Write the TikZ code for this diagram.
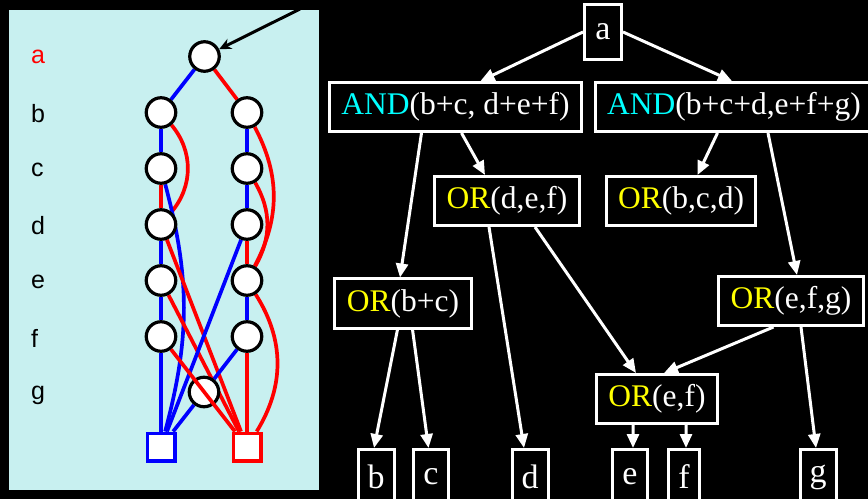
\documentclass[tikz,border=0pt]{standalone}
\usepackage{fontspec}
\setmainfont{Liberation Serif}
\newfontfamily\lblfont{Liberation Sans}
\usetikzlibrary{arrows.meta}
\definecolor{panelcyan}{RGB}{200,240,240}
\definecolor{andcyan}{RGB}{0,255,255}
\definecolor{oryellow}{RGB}{255,255,0}
\pgfdeclarelayer{back}
\pgfdeclarelayer{edges}
\pgfsetlayers{back,edges,main}

\begin{document}
\begin{tikzpicture}[x = 1bp, y = -1bp,
    vert/.style = {circle, draw = black, fill = white, line width = 3.2bp, minimum size = 29.5bp, inner sep = 0pt},
    term/.style = {rectangle, fill = white, line width = 3.5bp, minimum size = 27.5bp, inner sep = 0pt},
    loedge/.style = {blue, line width = 3.7bp},
    hiedge/.style = {red, line width = 3.7bp},
    varlbl/.style = {anchor = west, inner sep = 0pt, font = {\lblfont\fontsize{25bp}{29bp}\selectfont}},
    gate/.style = {draw = white, line width = 3bp, text = white, inner xsep = 12bp, minimum height = 49bp, font = {\fontsize{31.5bp}{36bp}\selectfont}},
    leaf/.style = {gate, inner xsep = 9.5bp, minimum height = 55bp, font = {\fontsize{34bp}{40bp}\selectfont}},
    flow/.style = {white, line width = 3bp, -{Triangle[length = 14bp, width = 12bp]}}]
    \useasboundingbox (0,0) rectangle (868,499);
    \clip (0,0) rectangle (868,499);
    \begin{pgfonlayer}{back}
        \fill [black] (0,0) rectangle (868,499);
        \fill [panelcyan] (9,10) rectangle (319,490);
    \end{pgfonlayer}

    % left: the diagram
    \node [varlbl, red] (lbla) at (31,57) {a};
    \foreach \v/\y in {b/114, c/170, d/226, e/282, f/338, g/395}
        \node [varlbl] (lbl\v) at (31,\y) {\v};

    \node [vert] (ta) at (204.5,56.5) {};
    \foreach \v/\y in {b/112.5, c/168.5, d/224.5, e/280.5, f/336.5} {
        \node [vert] (l\v) at (161,\y) {};
        \node [vert] (r\v) at (247,\y) {};
    }
    \node [vert] (tg) at (204,392) {};
    \node [term, draw = blue] (zero) at (161,447) {};
    \node [term, draw = red] (one) at (247,447) {};

    \coordinate (src) at (300,9);
    \draw [line width = 3bp, -{Stealth[length = 12bp, width = 11bp]}] (src) -- (ta);

    \begin{pgfonlayer}{edges}
        \draw [loedge] (ta) -- (lb);
        \draw [hiedge] (ta) -- (rb);
        \draw [loedge] (lb) -- (lc);
        \draw [hiedge] (lb) to [bend left = 40] (ld);
        \draw [hiedge] (lc) -- (ld);
        \draw [loedge] (lc) to [bend left = 15] (zero);
        \draw [hiedge] (ld) -- (one);
        \draw [loedge] (ld) -- (le);
        \draw [hiedge] (le) -- (one);
        \draw [loedge] (le) -- (lf);
        \draw [loedge] (lf) -- (zero);

        \draw [loedge] (rb) -- (rc);
        \draw [hiedge] (rb) to [bend left = 28] (re);
        \draw [loedge] (rc) -- (rd);
        \draw [hiedge] (rc) to [bend left = 30] (re);
        \draw [loedge] (rd) -- (zero);
        \draw [hiedge] (rd) -- (re);
        \draw [loedge] (re) -- (rf);
        \draw [hiedge] (re) to [bend left = 32] (one);
        \draw [loedge] (rf) -- (tg);
        \draw [hiedge] (rf) -- (one);
        \draw [loedge] (tg) -- (zero);
    \end{pgfonlayer}
    \draw [hiedge] (lf) -- (one);

    % right: the formula tree
    \node [leaf, minimum width = 37bp] (fa) at (603,32) {a};
    \node [gate] (and1) at (455.5,107) {\textcolor{andcyan}{AND}(b+c, d+e+f)};
    \node [gate] (and2) at (734,107) {\textcolor{andcyan}{AND}(b+c+d,e+f+g)};
    \node [gate] (ordef) at (507,201) {\textcolor{oryellow}{OR}(d,e,f)};
    \node [gate] (orbcd) at (681,201) {\textcolor{oryellow}{OR}(b,c,d)};
    \node [gate] (orbc) at (403,303.5) {\textcolor{oryellow}{OR}(b+c)};
    \node [gate] (orefg) at (791,301) {\textcolor{oryellow}{OR}(e,f,g)};
    \node [gate] (oref) at (657,399) {\textcolor{oryellow}{OR}(e,f)};
    \foreach \v/\x in {b/376, c/431, d/530, e/630, f/684, g/818}
        \node [leaf] (v\v) at (\x,477) {\v};

    \draw [flow] (fa.west) -- ([xshift = 25bp]and1.north);
    \draw [flow] (fa.east) -- ([xshift = -2bp]and2.north);
    \draw [flow] ([xshift = 6bp]and1.south) -- ([xshift = -22bp]ordef.north);
    \draw [flow] ([xshift = -34bp]and1.south) -- ([xshift = -3bp]orbc.north);
    \draw [flow] ([xshift = -16.5bp]and2.south) -- ([xshift = 16.5bp]orbcd.north);
    \draw [flow] ([xshift = 34bp]and2.south) -- ([xshift = 6bp]orefg.north);
    \draw [flow] ([xshift = -18bp]ordef.south) -- ([xshift = -6bp]vd.north);
    \draw [flow] ([xshift = 28bp]ordef.south) -- ([xshift = -21bp]oref.north);
    \draw [flow] ([xshift = -5.5bp]orbc.south) -- ([xshift = -2bp]vb.north);
    \draw [flow] ([xshift = 9.5bp]orbc.south) -- ([xshift = -2.5bp]vc.north);
    \draw [flow] ([xshift = -17.5bp]orefg.south) -- ([xshift = 7bp]oref.north);
    \draw [flow] ([xshift = 10bp]orefg.south) -- ([xshift = -2bp]vg.north);
    \draw [flow] ([xshift = -24bp]oref.south) -- ([xshift = 3bp]ve.north);
    \draw [flow] ([xshift = 29bp]oref.south) -- ([xshift = 2bp]vf.north);
\end{tikzpicture}
\end{document}
